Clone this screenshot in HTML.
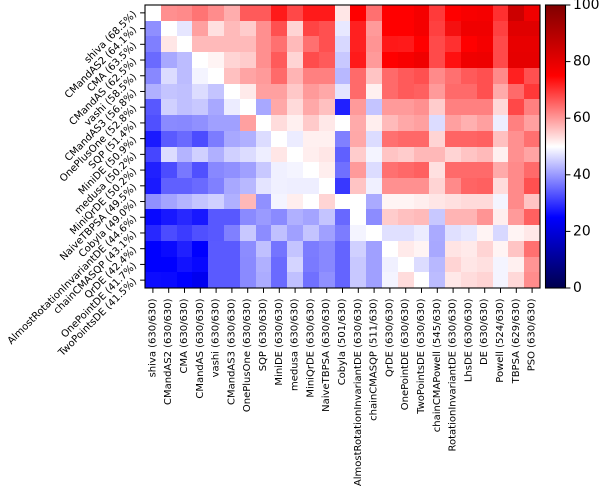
<!DOCTYPE html>
<html><head><meta charset="utf-8"><style>
html,body{margin:0;padding:0;background:#fff;}
body{width:602px;height:488px;position:relative;overflow:hidden;}
#hm{position:absolute;left:145px;top:5px;width:395px;height:283px;display:grid;grid-template-columns:repeat(25,1fr);grid-template-rows:repeat(18,1fr);}
#hm i{display:block;}
svg{position:absolute;left:0;top:0;}
text{font-family:"DejaVu Sans","Liberation Sans",sans-serif;fill:#000;}
</style></head><body>
<div id="hm">
<i style="background:#ffffff"></i><i style="background:#ff8f8f"></i><i style="background:#ff8a8a"></i><i style="background:#ff7474"></i><i style="background:#ff8c8c"></i><i style="background:#ffadad"></i><i style="background:#ff5a5a"></i><i style="background:#ff5a5a"></i><i style="background:#ff1a1a"></i><i style="background:#ff4848"></i><i style="background:#ff1a1a"></i><i style="background:#ff1a1a"></i><i style="background:#ffe6e6"></i><i style="background:#ff0000"></i><i style="background:#ff7070"></i><i style="background:#ff0000"></i><i style="background:#ff0000"></i><i style="background:#f50000"></i><i style="background:#ff3a3a"></i><i style="background:#ff0000"></i><i style="background:#f80000"></i><i style="background:#f50000"></i><i style="background:#ff3030"></i><i style="background:#cc0000"></i><i style="background:#f00000"></i>
<i style="background:#8f8fff"></i><i style="background:#ffffff"></i><i style="background:#e6e6ff"></i><i style="background:#ffa0a0"></i><i style="background:#ffe0e0"></i><i style="background:#ffbaba"></i><i style="background:#ffcccc"></i><i style="background:#ff8f8f"></i><i style="background:#ff5050"></i><i style="background:#ffd4d4"></i><i style="background:#ff4444"></i><i style="background:#ff5050"></i><i style="background:#e8e8ff"></i><i style="background:#ff2020"></i><i style="background:#ff9a9a"></i><i style="background:#ff0000"></i><i style="background:#ff0000"></i><i style="background:#f50000"></i><i style="background:#ff4040"></i><i style="background:#f51010"></i><i style="background:#f00000"></i><i style="background:#f00000"></i><i style="background:#ff4040"></i><i style="background:#e00000"></i><i style="background:#e00000"></i>
<i style="background:#7f7fff"></i><i style="background:#ffe6e6"></i><i style="background:#ffffff"></i><i style="background:#ffbaba"></i><i style="background:#ffbaba"></i><i style="background:#ffbaba"></i><i style="background:#ffbaba"></i><i style="background:#ff8f8f"></i><i style="background:#ff7070"></i><i style="background:#ffbaba"></i><i style="background:#ff7070"></i><i style="background:#ff5050"></i><i style="background:#d8d8ff"></i><i style="background:#ff2020"></i><i style="background:#ff9494"></i><i style="background:#ff1818"></i><i style="background:#ff1a1a"></i><i style="background:#ff0000"></i><i style="background:#ff4a4a"></i><i style="background:#ff3030"></i><i style="background:#ff0000"></i><i style="background:#f50000"></i><i style="background:#ff4a4a"></i><i style="background:#e80000"></i><i style="background:#e80000"></i>
<i style="background:#6a6aff"></i><i style="background:#a8a8ff"></i><i style="background:#bcbcff"></i><i style="background:#ffffff"></i><i style="background:#fff4f4"></i><i style="background:#ffd4d4"></i><i style="background:#ffcccc"></i><i style="background:#ff8f8f"></i><i style="background:#ff5a5a"></i><i style="background:#ffd4d4"></i><i style="background:#ff4c4c"></i><i style="background:#ff5a5a"></i><i style="background:#c8c8ff"></i><i style="background:#ff1a1a"></i><i style="background:#ff9a9a"></i><i style="background:#ff0000"></i><i style="background:#f80000"></i><i style="background:#f00000"></i><i style="background:#ff4a4a"></i><i style="background:#ff1010"></i><i style="background:#f00000"></i><i style="background:#ee0000"></i><i style="background:#ff4a4a"></i><i style="background:#e60000"></i><i style="background:#e60000"></i>
<i style="background:#8888ff"></i><i style="background:#dcdcff"></i><i style="background:#bcbcff"></i><i style="background:#f4f4ff"></i><i style="background:#ffffff"></i><i style="background:#ffc0c0"></i><i style="background:#ffa4a4"></i><i style="background:#ff9a9a"></i><i style="background:#ff6a6a"></i><i style="background:#ffb4b4"></i><i style="background:#ff8080"></i><i style="background:#ff8080"></i><i style="background:#b8b8ff"></i><i style="background:#ff6a6a"></i><i style="background:#ffc4c4"></i><i style="background:#ff6a6a"></i><i style="background:#ff5a5a"></i><i style="background:#ff5050"></i><i style="background:#ff8a8a"></i><i style="background:#ff7070"></i><i style="background:#ff5a5a"></i><i style="background:#ff5050"></i><i style="background:#ff8a8a"></i><i style="background:#ff2020"></i><i style="background:#ff5050"></i>
<i style="background:#b0b0ff"></i><i style="background:#c4c4ff"></i><i style="background:#c0c0ff"></i><i style="background:#dcdcff"></i><i style="background:#c4c4ff"></i><i style="background:#ffffff"></i><i style="background:#ffeaea"></i><i style="background:#ffa0a0"></i><i style="background:#ffa0a0"></i><i style="background:#ffc8c8"></i><i style="background:#ff9a9a"></i><i style="background:#ffa8a8"></i><i style="background:#e4e4ff"></i><i style="background:#ff6a6a"></i><i style="background:#fff0f0"></i><i style="background:#ff6a6a"></i><i style="background:#ff5a5a"></i><i style="background:#ff6060"></i><i style="background:#ff9a9a"></i><i style="background:#ff6a6a"></i><i style="background:#ff6a6a"></i><i style="background:#ff5050"></i><i style="background:#ffaaaa"></i><i style="background:#ff6a6a"></i><i style="background:#ff3838"></i>
<i style="background:#5858ff"></i><i style="background:#d0d0ff"></i><i style="background:#c0c0ff"></i><i style="background:#c8c8ff"></i><i style="background:#a8a8ff"></i><i style="background:#ececff"></i><i style="background:#ffffff"></i><i style="background:#a8a8ff"></i><i style="background:#ffa8a8"></i><i style="background:#ffdada"></i><i style="background:#ffa8a8"></i><i style="background:#ffc0c0"></i><i style="background:#2020ff"></i><i style="background:#ff9a9a"></i><i style="background:#c4c4ff"></i><i style="background:#ff9a9a"></i><i style="background:#ff9a9a"></i><i style="background:#ff9090"></i><i style="background:#ffcccc"></i><i style="background:#ff8080"></i><i style="background:#ff8080"></i><i style="background:#ff8080"></i><i style="background:#ffd8d8"></i><i style="background:#ff4848"></i><i style="background:#ff8080"></i>
<i style="background:#5050ff"></i><i style="background:#8a8aff"></i><i style="background:#8888ff"></i><i style="background:#9090ff"></i><i style="background:#a0a0ff"></i><i style="background:#a0a0ff"></i><i style="background:#ffa0a0"></i><i style="background:#ffffff"></i><i style="background:#ffdcdc"></i><i style="background:#fff0f0"></i><i style="background:#ffcaca"></i><i style="background:#ffe8e8"></i><i style="background:#ffffff"></i><i style="background:#ffaaaa"></i><i style="background:#ffeeee"></i><i style="background:#ffbaba"></i><i style="background:#ffa8a8"></i><i style="background:#ffa0a0"></i><i style="background:#dcdcff"></i><i style="background:#ffa0a0"></i><i style="background:#ffb0b0"></i><i style="background:#ffa0a0"></i><i style="background:#eeeeff"></i><i style="background:#ff8080"></i><i style="background:#ffa0a0"></i>
<i style="background:#1a1aff"></i><i style="background:#5a5aff"></i><i style="background:#6a6aff"></i><i style="background:#4c4cff"></i><i style="background:#7c7cff"></i><i style="background:#a8a8ff"></i><i style="background:#b0b0ff"></i><i style="background:#dcdcff"></i><i style="background:#ffffff"></i><i style="background:#ececff"></i><i style="background:#fff0f0"></i><i style="background:#fff0f0"></i><i style="background:#8080ff"></i><i style="background:#ffa8a8"></i><i style="background:#dcdcff"></i><i style="background:#ff7070"></i><i style="background:#ff6868"></i><i style="background:#ff6868"></i><i style="background:#ffd4d4"></i><i style="background:#ff6464"></i><i style="background:#ff6464"></i><i style="background:#ff6060"></i><i style="background:#ffc0c0"></i><i style="background:#ff9090"></i><i style="background:#ff7070"></i>
<i style="background:#4646ff"></i><i style="background:#dcdcff"></i><i style="background:#b4b4ff"></i><i style="background:#d0d0ff"></i><i style="background:#b0b0ff"></i><i style="background:#d0d0ff"></i><i style="background:#dcdcff"></i><i style="background:#eeeeff"></i><i style="background:#ffe6e6"></i><i style="background:#ffffff"></i><i style="background:#ffeeee"></i><i style="background:#ffe6e6"></i><i style="background:#6060ff"></i><i style="background:#ffcccc"></i><i style="background:#f4f4ff"></i><i style="background:#ffc4c4"></i><i style="background:#ffcccc"></i><i style="background:#ffb8b8"></i><i style="background:#ffb8b8"></i><i style="background:#ffd4d4"></i><i style="background:#ffc4c4"></i><i style="background:#ffbaba"></i><i style="background:#fff0f0"></i><i style="background:#ff9090"></i><i style="background:#ffa4a4"></i>
<i style="background:#2020ff"></i><i style="background:#4c4cff"></i><i style="background:#7878ff"></i><i style="background:#5050ff"></i><i style="background:#8888ff"></i><i style="background:#9090ff"></i><i style="background:#a0a0ff"></i><i style="background:#c8c8ff"></i><i style="background:#f0f0ff"></i><i style="background:#f4f4ff"></i><i style="background:#ffffff"></i><i style="background:#ffeeee"></i><i style="background:#7070ff"></i><i style="background:#ff9a9a"></i><i style="background:#dcdcff"></i><i style="background:#ff7070"></i><i style="background:#ff6868"></i><i style="background:#ff6060"></i><i style="background:#ffe0e0"></i><i style="background:#ff6a6a"></i><i style="background:#ff6a6a"></i><i style="background:#ff6a6a"></i><i style="background:#ffaaaa"></i><i style="background:#ff8a8a"></i><i style="background:#ff6a6a"></i>
<i style="background:#1a1aff"></i><i style="background:#6060ff"></i><i style="background:#6060ff"></i><i style="background:#6a6aff"></i><i style="background:#8080ff"></i><i style="background:#a8a8ff"></i><i style="background:#b8b8ff"></i><i style="background:#e4e4ff"></i><i style="background:#f0f0ff"></i><i style="background:#eeeeff"></i><i style="background:#eeeeff"></i><i style="background:#ffffff"></i><i style="background:#3838ff"></i><i style="background:#ffc4c4"></i><i style="background:#f0f0ff"></i><i style="background:#ff9090"></i><i style="background:#ff9090"></i><i style="background:#ff9090"></i><i style="background:#ffd4d4"></i><i style="background:#ff8a8a"></i><i style="background:#ff6464"></i><i style="background:#ff6060"></i><i style="background:#ffdcdc"></i><i style="background:#ff8a8a"></i><i style="background:#ff5050"></i>
<i style="background:#9090ff"></i><i style="background:#a4a4ff"></i><i style="background:#b4b4ff"></i><i style="background:#c4c4ff"></i><i style="background:#d0d0ff"></i><i style="background:#b0b0ff"></i><i style="background:#ffb8b8"></i><i style="background:#9090ff"></i><i style="background:#f4f4ff"></i><i style="background:#ffeeee"></i><i style="background:#ffffff"></i><i style="background:#ffd4d4"></i><i style="background:#ffffff"></i><i style="background:#ffffff"></i><i style="background:#aaaaff"></i><i style="background:#fff4f4"></i><i style="background:#fff4f4"></i><i style="background:#ffeeee"></i><i style="background:#ffe6e6"></i><i style="background:#ffe0e0"></i><i style="background:#ffdada"></i><i style="background:#ffdada"></i><i style="background:#f4f4ff"></i><i style="background:#ff8a8a"></i><i style="background:#ffc4c4"></i>
<i style="background:#0808ff"></i><i style="background:#1818ff"></i><i style="background:#2828ff"></i><i style="background:#1818ff"></i><i style="background:#5858ff"></i><i style="background:#5858ff"></i><i style="background:#8a8aff"></i><i style="background:#9a9aff"></i><i style="background:#8a8aff"></i><i style="background:#b0b0ff"></i><i style="background:#a4a4ff"></i><i style="background:#c4c4ff"></i><i style="background:#6868ff"></i><i style="background:#ffffff"></i><i style="background:#8c8cff"></i><i style="background:#ffcccc"></i><i style="background:#ffc0c0"></i><i style="background:#ffbaba"></i><i style="background:#c8c8ff"></i><i style="background:#ffb4b4"></i><i style="background:#ffb4b4"></i><i style="background:#ff9494"></i><i style="background:#ffeeee"></i><i style="background:#ff9a9a"></i><i style="background:#ff6060"></i>
<i style="background:#2828ff"></i><i style="background:#4c4cff"></i><i style="background:#3c3cff"></i><i style="background:#5050ff"></i><i style="background:#5858ff"></i><i style="background:#8080ff"></i><i style="background:#c8c8ff"></i><i style="background:#8c8cff"></i><i style="background:#c0c0ff"></i><i style="background:#a0a0ff"></i><i style="background:#c4c4ff"></i><i style="background:#a0a0ff"></i><i style="background:#7c7cff"></i><i style="background:#f4f4ff"></i><i style="background:#ffffff"></i><i style="background:#e0e0ff"></i><i style="background:#e0e0ff"></i><i style="background:#ececff"></i><i style="background:#aaaaff"></i><i style="background:#e0e0ff"></i><i style="background:#e8e8ff"></i><i style="background:#fff4f4"></i><i style="background:#d8d8ff"></i><i style="background:#fff4f4"></i><i style="background:#ffe8e8"></i>
<i style="background:#0000ff"></i><i style="background:#0a0aff"></i><i style="background:#2020ff"></i><i style="background:#0000ff"></i><i style="background:#5a5aff"></i><i style="background:#5a5aff"></i><i style="background:#8c8cff"></i><i style="background:#c0c0ff"></i><i style="background:#7474ff"></i><i style="background:#c4c4ff"></i><i style="background:#7c7cff"></i><i style="background:#8888ff"></i><i style="background:#6464ff"></i><i style="background:#d0d0ff"></i><i style="background:#a0a0ff"></i><i style="background:#ffffff"></i><i style="background:#ffeaea"></i><i style="background:#fff4f4"></i><i style="background:#a8a8ff"></i><i style="background:#ffe4e4"></i><i style="background:#ffeaea"></i><i style="background:#ffd4d4"></i><i style="background:#fff4f4"></i><i style="background:#ffc4c4"></i><i style="background:#ff7070"></i>
<i style="background:#0000ff"></i><i style="background:#0000ff"></i><i style="background:#1212ff"></i><i style="background:#0808ff"></i><i style="background:#5a5aff"></i><i style="background:#5a5aff"></i><i style="background:#8a8aff"></i><i style="background:#b0b0ff"></i><i style="background:#6a6aff"></i><i style="background:#d4d4ff"></i><i style="background:#7a7aff"></i><i style="background:#8888ff"></i><i style="background:#6464ff"></i><i style="background:#c8c8ff"></i><i style="background:#a0a0ff"></i><i style="background:#f0f0ff"></i><i style="background:#ffffff"></i><i style="background:#dcdcff"></i><i style="background:#b8b8ff"></i><i style="background:#ffd4d4"></i><i style="background:#ffe6e6"></i><i style="background:#ffe0e0"></i><i style="background:#f4f4ff"></i><i style="background:#fff0f0"></i><i style="background:#ff9494"></i>
<i style="background:#0c0cff"></i><i style="background:#0a0aff"></i><i style="background:#0000ff"></i><i style="background:#0000f0"></i><i style="background:#5a5aff"></i><i style="background:#5a5aff"></i><i style="background:#8a8aff"></i><i style="background:#acacff"></i><i style="background:#6a6aff"></i><i style="background:#c0c0ff"></i><i style="background:#7070ff"></i><i style="background:#9090ff"></i><i style="background:#6464ff"></i><i style="background:#c8c8ff"></i><i style="background:#a0a0ff"></i><i style="background:#f4f4ff"></i><i style="background:#ffdcdc"></i><i style="background:#ffffff"></i><i style="background:#bcbcff"></i><i style="background:#ffe8e8"></i><i style="background:#ffdcdc"></i><i style="background:#ffd4d4"></i><i style="background:#f4f4ff"></i><i style="background:#ffd8d8"></i><i style="background:#ff8c8c"></i>
</div>
<svg width="602" height="488" viewBox="0 0 602 488">
<defs>
<linearGradient id="cb" x1="0" y1="1" x2="0" y2="0">
<stop offset="0" stop-color="#00004d"/>
<stop offset="0.25" stop-color="#0000ff"/>
<stop offset="0.5" stop-color="#ffffff"/>
<stop offset="0.75" stop-color="#ff0000"/>
<stop offset="1" stop-color="#800000"/>
</linearGradient>
</defs>
<rect x="145" y="5" width="395" height="283" fill="none" stroke="#000" stroke-width="1.1"/>
<g stroke="#000" stroke-width="1">
<line x1="140.1" y1="12.86" x2="145" y2="12.86"/><line x1="140.1" y1="28.58" x2="145" y2="28.58"/><line x1="140.1" y1="44.31" x2="145" y2="44.31"/><line x1="140.1" y1="60.03" x2="145" y2="60.03"/><line x1="140.1" y1="75.75" x2="145" y2="75.75"/><line x1="140.1" y1="91.47" x2="145" y2="91.47"/><line x1="140.1" y1="107.19" x2="145" y2="107.19"/><line x1="140.1" y1="122.92" x2="145" y2="122.92"/><line x1="140.1" y1="138.64" x2="145" y2="138.64"/><line x1="140.1" y1="154.36" x2="145" y2="154.36"/><line x1="140.1" y1="170.08" x2="145" y2="170.08"/><line x1="140.1" y1="185.81" x2="145" y2="185.81"/><line x1="140.1" y1="201.53" x2="145" y2="201.53"/><line x1="140.1" y1="217.25" x2="145" y2="217.25"/><line x1="140.1" y1="232.97" x2="145" y2="232.97"/><line x1="140.1" y1="248.69" x2="145" y2="248.69"/><line x1="140.1" y1="264.42" x2="145" y2="264.42"/><line x1="140.1" y1="280.14" x2="145" y2="280.14"/>
<line x1="152.9" y1="288" x2="152.9" y2="292.9"/><line x1="168.7" y1="288" x2="168.7" y2="292.9"/><line x1="184.5" y1="288" x2="184.5" y2="292.9"/><line x1="200.3" y1="288" x2="200.3" y2="292.9"/><line x1="216.1" y1="288" x2="216.1" y2="292.9"/><line x1="231.9" y1="288" x2="231.9" y2="292.9"/><line x1="247.7" y1="288" x2="247.7" y2="292.9"/><line x1="263.5" y1="288" x2="263.5" y2="292.9"/><line x1="279.3" y1="288" x2="279.3" y2="292.9"/><line x1="295.1" y1="288" x2="295.1" y2="292.9"/><line x1="310.9" y1="288" x2="310.9" y2="292.9"/><line x1="326.7" y1="288" x2="326.7" y2="292.9"/><line x1="342.5" y1="288" x2="342.5" y2="292.9"/><line x1="358.3" y1="288" x2="358.3" y2="292.9"/><line x1="374.1" y1="288" x2="374.1" y2="292.9"/><line x1="389.9" y1="288" x2="389.9" y2="292.9"/><line x1="405.7" y1="288" x2="405.7" y2="292.9"/><line x1="421.5" y1="288" x2="421.5" y2="292.9"/><line x1="437.3" y1="288" x2="437.3" y2="292.9"/><line x1="453.1" y1="288" x2="453.1" y2="292.9"/><line x1="468.9" y1="288" x2="468.9" y2="292.9"/><line x1="484.7" y1="288" x2="484.7" y2="292.9"/><line x1="500.5" y1="288" x2="500.5" y2="292.9"/><line x1="516.3" y1="288" x2="516.3" y2="292.9"/><line x1="532.1" y1="288" x2="532.1" y2="292.9"/>
</g>
<g font-size="10" text-anchor="end" dominant-baseline="central">
<text transform="translate(135.3,12.86) rotate(-45)">shiva (68.5%)</text>
<text transform="translate(135.3,28.58) rotate(-45)">CMandAS2 (64.1%)</text>
<text transform="translate(135.3,44.31) rotate(-45)">CMA (63.5%)</text>
<text transform="translate(135.3,60.03) rotate(-45)">CMandAS (62.5%)</text>
<text transform="translate(135.3,75.75) rotate(-45)">vashi (58.5%)</text>
<text transform="translate(135.3,91.47) rotate(-45)">CMandAS3 (56.8%)</text>
<text transform="translate(135.3,107.19) rotate(-45)">OnePlusOne (52.8%)</text>
<text transform="translate(135.3,122.92) rotate(-45)">SQP (51.4%)</text>
<text transform="translate(135.3,138.64) rotate(-45)">MiniDE (50.9%)</text>
<text transform="translate(135.3,154.36) rotate(-45)">medusa (50.2%)</text>
<text transform="translate(135.3,170.08) rotate(-45)">MiniQrDE (50.2%)</text>
<text transform="translate(135.3,185.81) rotate(-45)">NaiveTBPSA (49.5%)</text>
<text transform="translate(135.3,201.53) rotate(-45)">Cobyla (49.0%)</text>
<text transform="translate(135.3,217.25) rotate(-45)">AlmostRotationInvariantDE (44.6%)</text>
<text transform="translate(135.3,232.97) rotate(-45)">chainCMASQP (43.1%)</text>
<text transform="translate(135.3,248.69) rotate(-45)">QrDE (42.4%)</text>
<text transform="translate(135.3,264.42) rotate(-45)">OnePointDE (41.7%)</text>
<text transform="translate(135.3,280.14) rotate(-45)">TwoPointsDE (41.5%)</text>
</g>
<g font-size="10" text-anchor="end" dominant-baseline="central">
<text transform="translate(152.9,298.5) rotate(-90)">shiva (630/630)</text>
<text transform="translate(168.7,298.5) rotate(-90)">CMandAS2 (630/630)</text>
<text transform="translate(184.5,298.5) rotate(-90)">CMA (630/630)</text>
<text transform="translate(200.3,298.5) rotate(-90)">CMandAS (630/630)</text>
<text transform="translate(216.1,298.5) rotate(-90)">vashi (630/630)</text>
<text transform="translate(231.9,298.5) rotate(-90)">CMandAS3 (630/630)</text>
<text transform="translate(247.7,298.5) rotate(-90)">OnePlusOne (630/630)</text>
<text transform="translate(263.5,298.5) rotate(-90)">SQP (630/630)</text>
<text transform="translate(279.3,298.5) rotate(-90)">MiniDE (630/630)</text>
<text transform="translate(295.1,298.5) rotate(-90)">medusa (630/630)</text>
<text transform="translate(310.9,298.5) rotate(-90)">MiniQrDE (630/630)</text>
<text transform="translate(326.7,298.5) rotate(-90)">NaiveTBPSA (630/630)</text>
<text transform="translate(342.5,298.5) rotate(-90)">Cobyla (501/630)</text>
<text transform="translate(358.3,298.5) rotate(-90)">AlmostRotationInvariantDE (630/630)</text>
<text transform="translate(374.1,298.5) rotate(-90)">chainCMASQP (511/630)</text>
<text transform="translate(389.9,298.5) rotate(-90)">QrDE (630/630)</text>
<text transform="translate(405.7,298.5) rotate(-90)">OnePointDE (630/630)</text>
<text transform="translate(421.5,298.5) rotate(-90)">TwoPointsDE (630/630)</text>
<text transform="translate(437.3,298.5) rotate(-90)">chainCMAPowell (545/630)</text>
<text transform="translate(453.1,298.5) rotate(-90)">RotationInvariantDE (630/630)</text>
<text transform="translate(468.9,298.5) rotate(-90)">LhsDE (630/630)</text>
<text transform="translate(484.7,298.5) rotate(-90)">DE (630/630)</text>
<text transform="translate(500.5,298.5) rotate(-90)">Powell (524/630)</text>
<text transform="translate(516.3,298.5) rotate(-90)">TBPSA (629/630)</text>
<text transform="translate(532.1,298.5) rotate(-90)">PSO (630/630)</text>
</g>
<rect x="545.5" y="5" width="20" height="283" fill="url(#cb)" stroke="#000" stroke-width="1.1"/>
<g stroke="#000" stroke-width="1">
<line x1="565.5" y1="5" x2="570.4" y2="5"/><line x1="565.5" y1="61.6" x2="570.4" y2="61.6"/><line x1="565.5" y1="118.2" x2="570.4" y2="118.2"/><line x1="565.5" y1="174.8" x2="570.4" y2="174.8"/><line x1="565.5" y1="231.4" x2="570.4" y2="231.4"/><line x1="565.5" y1="288" x2="570.4" y2="288"/>
</g>
<g font-size="13.9" dominant-baseline="central">
<text x="573" y="5">100</text>
<text x="573" y="61.6">80</text>
<text x="573" y="118.2">60</text>
<text x="573" y="174.8">40</text>
<text x="573" y="231.4">20</text>
<text x="573" y="288">0</text>
</g>
</svg>
</body></html>
